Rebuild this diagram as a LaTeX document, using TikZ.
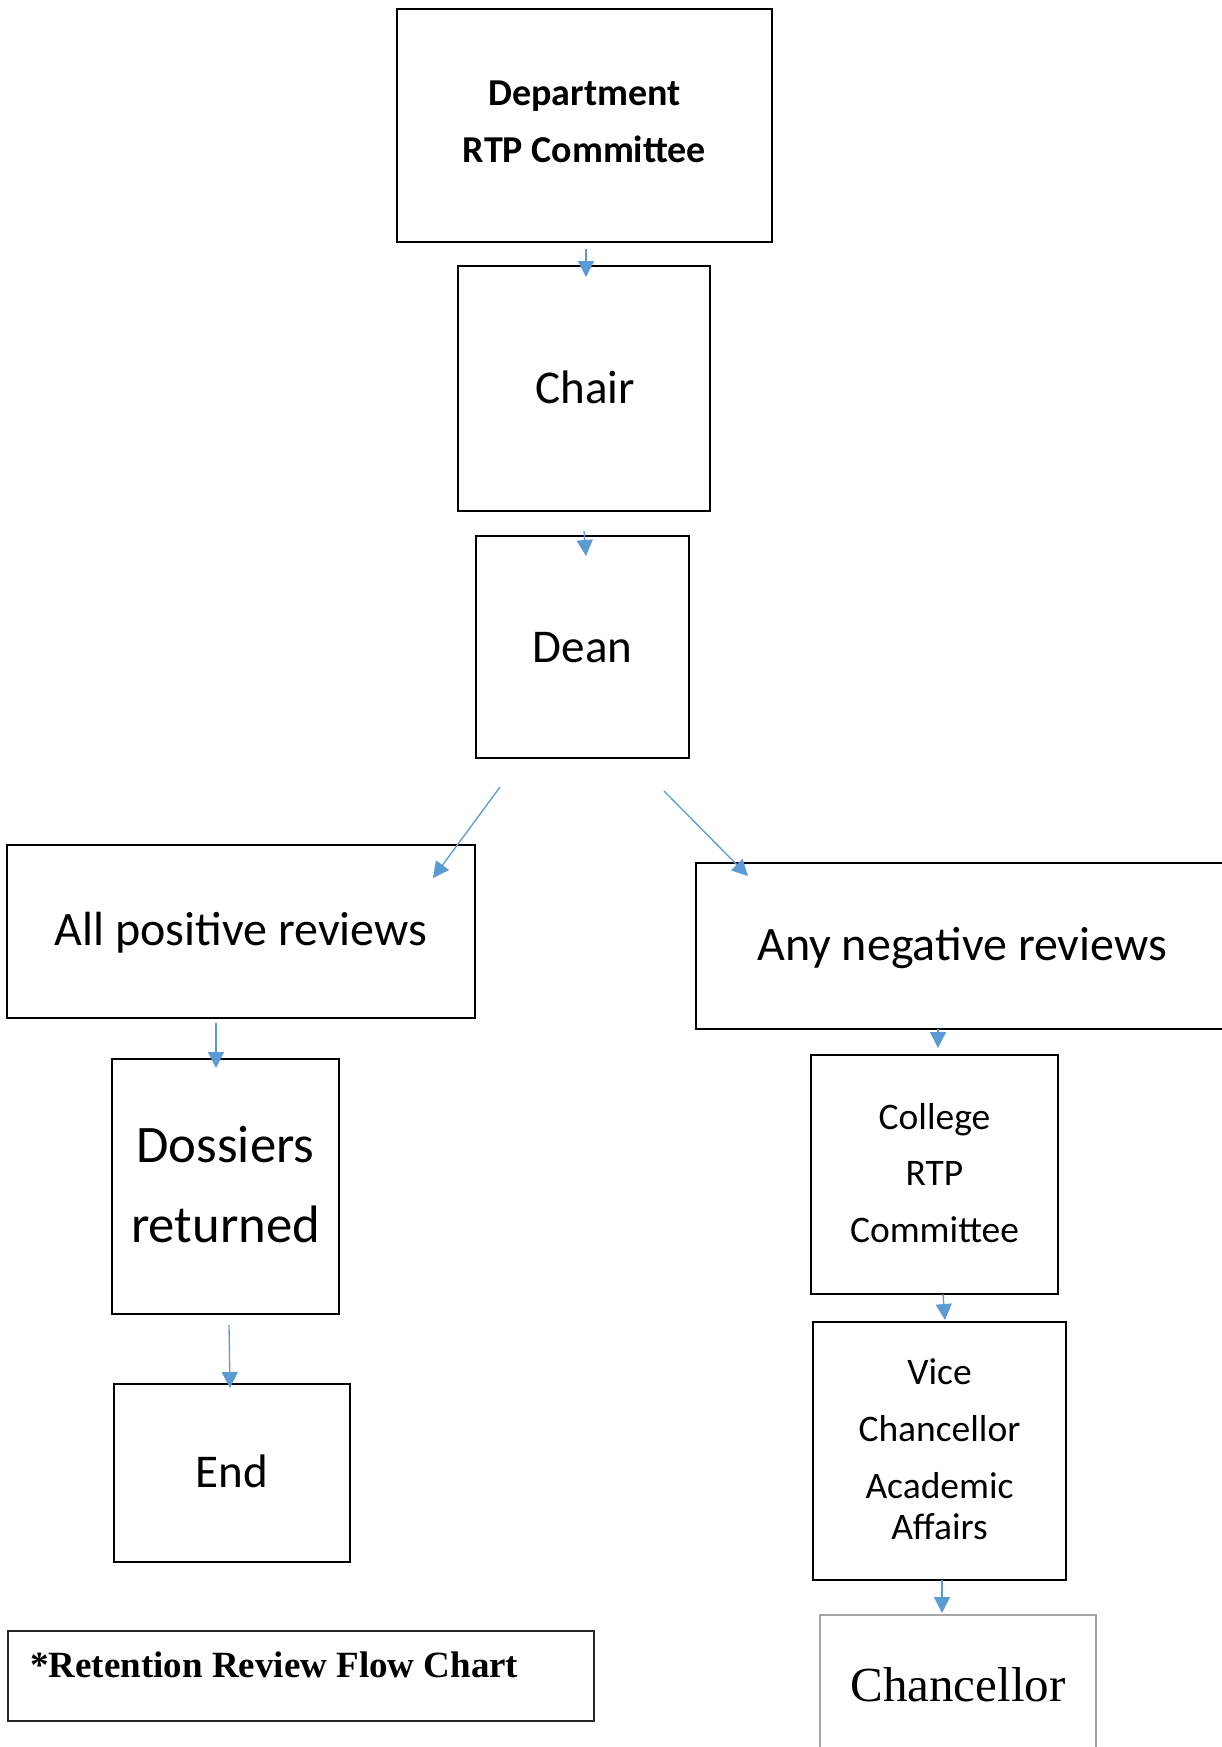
\documentclass[tikz,border=0pt]{standalone}
\usepackage{fontspec}
\usetikzlibrary{arrows.meta}
\newfontfamily\carl{Carlito}
\newfontfamily\tnr{Liberation Serif}
\definecolor{arrblue}{HTML}{5B9BD5}
\definecolor{boxgrey}{HTML}{A5A5A5}
\tikzset{
  box/.style={draw=black, line width=2.4pt, inner sep=0pt, outer sep=0pt},
  arr/.style={draw=arrblue, line width=1.3pt, -{Triangle[length=16pt,width=16pt]}},
  txt/.style={anchor=base, inner sep=0pt, font=\carl},
}
\begin{document}
\begin{tikzpicture}[x=1pt,y=-1pt]
\fill[white] (0,0) rectangle (1222,1747);
\useasboundingbox (0,0) rectangle (1222,1747);
% boxes
\node[box, minimum width=375pt, minimum height=233pt] (dept) at (584.5,125.5) {};
\node[box, minimum width=252pt, minimum height=245pt] (chair) at (584,388.5) {};
\node[box, minimum width=213pt, minimum height=222pt] (dean) at (582.5,647) {};
\node[box, minimum width=468pt, minimum height=173pt] (pos) at (241,931.5) {};
\node[box, minimum width=532pt, minimum height=166pt] (neg) at (962,946) {};
\node[box, minimum width=227pt, minimum height=255pt] (doss) at (225.5,1186.5) {};
\node[box, minimum width=236pt, minimum height=178pt] (end) at (232,1473) {};
\node[box, minimum width=247pt, minimum height=239pt] (coll) at (934.5,1174.5) {};
\node[box, minimum width=253pt, minimum height=258pt] (vc) at (939.5,1451) {};
\node[box, draw=boxgrey, minimum width=276pt, minimum height=155pt] (chanc) at (958,1692.5) {};
\node[box, draw=black!85, line width=1.6pt, minimum width=586pt, minimum height=90pt] (ret) at (301,1676) {};
% texts
\node[txt, font=\carl\bfseries\fontsize{38}{46}\selectfont] (t1a) at (584.5,106) {Department};
\node[txt, font=\carl\bfseries\fontsize{38}{46}\selectfont] (t1b) at (584.5,163) {RTP Committee};
\node[txt, font=\carl\fontsize{47}{56}\selectfont] (t2) at (585,403) {Chair};
\node[txt, font=\carl\fontsize{47}{56}\selectfont] (t3) at (582.5,662) {Dean};
\node[txt, font=\carl\fontsize{48}{56}\selectfont] (t4) at (241,945) {All positive reviews};
\node[txt, font=\carl\fontsize{48}{56}\selectfont] (t5) at (962,960) {Any negative reviews};
\node[txt, font=\carl\fontsize{52.7}{64}\selectfont] (t6a) at (225.5,1162) {Dossiers};
\node[txt, font=\carl\fontsize{52.7}{64}\selectfont] (t6b) at (225.5,1242) {returned};
\node[txt, font=\carl\fontsize{47}{56}\selectfont] (t7) at (232,1487) {End};
\node[txt, font=\carl\fontsize{37.5}{46}\selectfont] (t8a) at (934.5,1129) {College};
\node[txt, font=\carl\fontsize{37.5}{46}\selectfont] (t8b) at (934.5,1185) {RTP};
\node[txt, font=\carl\fontsize{37.5}{46}\selectfont] (t8c) at (934.5,1242) {Committee};
\node[txt, font=\carl\fontsize{37.5}{46}\selectfont] (t9a) at (939.5,1384) {Vice};
\node[txt, font=\carl\fontsize{37.5}{46}\selectfont] (t9b) at (939.5,1441) {Chancellor};
\node[txt, font=\carl\fontsize{37.5}{46}\selectfont] (t9c) at (939.5,1498) {Academic};
\node[txt, font=\carl\fontsize{37.5}{46}\selectfont] (t9d) at (939.5,1539) {Affairs};
\node[txt, font=\tnr\fontsize{49}{58}\selectfont] (t10) at (958,1701) {Chancellor};
\node[txt, anchor=base west, font=\tnr\bfseries\fontsize{37}{44}\selectfont] (t11) at (30,1677) {*Retention Review Flow Chart};
% arrows
\draw[arr] ([xshift=1.5pt,yshift=-7pt]dept.south) -- ([xshift=2pt,yshift=-11pt]chair.north);
\draw[arr] ([yshift=-20pt]chair.south) -- ([xshift=3.5pt,yshift=-20pt]dean.north);
\draw[arr] ([xshift=-82.5pt,yshift=-29pt]dean.south) -- ([xshift=-42pt,yshift=-33pt]pos.north east);
\draw[arr] ([xshift=81.5pt,yshift=-33pt]dean.south) -- ([xshift=52pt,yshift=-13pt]neg.north west);
\draw[arr] ([xshift=-25pt,yshift=-5pt]pos.south) -- ([xshift=-9.5pt,yshift=-9pt]doss.north);
\draw[arr] ([xshift=-24pt]neg.south) -- ([xshift=3.5pt,yshift=7pt]coll.north);
\draw[arr] ([xshift=8.5pt]coll.south) -- ([xshift=5.5pt,yshift=2pt]vc.north);
\draw[arr] ([xshift=3.5pt,yshift=-11pt]doss.south) -- ([xshift=-2pt,yshift=-4pt]end.north);
\draw[arr] ([xshift=2.5pt]vc.south) -- ([xshift=-16pt,yshift=2pt]chanc.north);
\end{tikzpicture}
\end{document}
